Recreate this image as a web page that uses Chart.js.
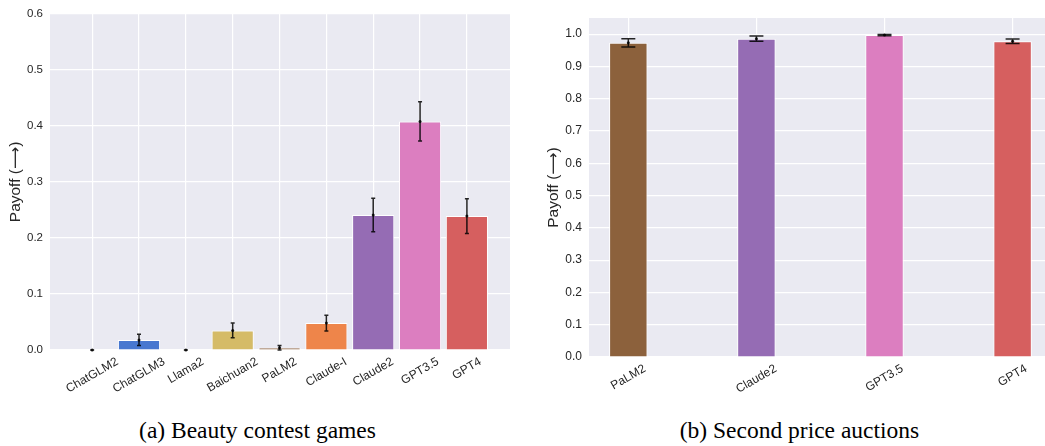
<!DOCTYPE html>
<html>
<head>
<meta charset="utf-8">
<script src="https://cdn.jsdelivr.net/npm/chart.js@4.4.0/dist/chart.umd.min.js"></script>
<style>
  body { margin: 0; width: 1045px; height: 446px; background: #fff; overflow: hidden; position: relative; }
  .box { position: absolute; top: 0; height: 400px; }
  .cap { position: absolute; top: 418px; font-family: "Liberation Serif", "Times New Roman", serif; font-size: 23.5px; line-height: 24px; color: #000; text-align: center; }
</style>
</head>
<body>
<div class="box" style="left:0;width:515px"><canvas id="beauty"></canvas></div>
<div class="box" style="left:530px;width:515px"><canvas id="auction"></canvas></div>
<div class="cap" style="left:0;width:515px">(a) Beauty contest games</div>
<div class="cap" style="left:542px;width:515px">(b) Second price auctions</div>
<script>
"use strict";

const beautyModels = ["ChatGLM2", "ChatGLM3", "Llama2", "Baichuan2", "PaLM2", "Claude-I", "Claude2", "GPT3.5", "GPT4"];
const beautyPayoff = [0, 0.018, 0, 0.035, 0.004, 0.048, 0.241, 0.408, 0.239];
const beautyErr = [0, 0.01, 0, 0.013, 0.004, 0.014, 0.03, 0.035, 0.031];
const beautyColors = ["#82c6e2", "#4878d0", "#6acc64", "#d5bb67", "#8c613c", "#ee854a", "#956cb4", "#dc7ec0", "#d65f5f"];
const beautyTicks = [0, 0.1, 0.2, 0.3, 0.4, 0.5, 0.6];

const auctionModels = ["PaLM2", "Claude2", "GPT3.5", "GPT4"];
const auctionPayoff = [0.973, 0.986, 0.997, 0.978];
const auctionErr = [0.013, 0.008, 0.002, 0.007];
const auctionColors = ["#8c613c", "#956cb4", "#dc7ec0", "#d65f5f"];
const auctionTicks = [0, 0.1, 0.2, 0.3, 0.4, 0.5, 0.6, 0.7, 0.8, 0.9, 1.0];

const SANS = "'Liberation Sans', Arial, 'DejaVu Sans', sans-serif";
const INK = "#262626";

// grey seaborn-ish panel behind the grid
const panelBg = {
  id: "panelBg",
  beforeDraw(chart) {
    const a = chart.chartArea;
    const ctx = chart.ctx;
    ctx.save();
    ctx.fillStyle = "#eaeaf2";
    ctx.fillRect(a.left, a.top, a.right - a.left, a.bottom - a.top);
    ctx.restore();
  },
};

const errorBars = {
  id: "errorBars",
  afterDatasetsDraw(chart, args, opts) {
    const ctx = chart.ctx;
    const ys = chart.scales.y;
    const bars = chart.getDatasetMeta(0).data;
    const vals = chart.data.datasets[0].data;
    ctx.save();
    ctx.strokeStyle = opts.color;
    ctx.fillStyle = opts.color;
    ctx.lineWidth = opts.width;
    bars.forEach((bar, i) => {
      const v = vals[i].y;
      const e = opts.errors[i];
      const top = ys.getPixelForValue(v + e);
      const bot = ys.getPixelForValue(v - e);
      ctx.beginPath();
      ctx.moveTo(bar.x, top);
      ctx.lineTo(bar.x, bot);
      ctx.moveTo(bar.x - opts.cap, top);
      ctx.lineTo(bar.x + opts.cap, top);
      ctx.moveTo(bar.x - opts.cap, bot);
      ctx.lineTo(bar.x + opts.cap, bot);
      ctx.stroke();
      ctx.beginPath();
      ctx.arc(bar.x, ys.getPixelForValue(v), opts.dot, 0, Math.PI * 2);
      ctx.fill();
    });
    ctx.restore();
  },
};

// chart.js right-aligns rotated ticks, matplotlib centres them, so draw them here
const slantedLabels = {
  id: "slantedLabels",
  afterDraw(chart, args, opts) {
    const ctx = chart.ctx;
    const xs = chart.scales.x;
    const base = chart.chartArea.bottom;
    const ang = Math.PI / 6;
    ctx.save();
    ctx.font = opts.size + "px " + SANS;
    ctx.fillStyle = INK;
    ctx.textAlign = "center";
    ctx.textBaseline = "middle";
    opts.labels.forEach((lab, i) => {
      const w = ctx.measureText(lab).width;
      const boxH = w * Math.sin(ang) + opts.size * 0.75 * Math.cos(ang);
      ctx.save();
      ctx.translate(xs.getPixelForValue(i), base + opts.gap + boxH / 2);
      ctx.rotate(-ang);
      ctx.fillText(lab, 0, 0);
      ctx.restore();
    });
    ctx.restore();
  },
};

function barPanel(id, p) {
  const ctx = document.getElementById(id).getContext("2d");
  return new Chart(ctx, {
    type: "bar",
    data: {
      datasets: [
        {
          data: p.values.map((v, i) => ({ x: i, y: v })),
          backgroundColor: p.colors,
          borderColor: "#ffffff",
          borderWidth: 1,
          barPercentage: p.barPct,
          categoryPercentage: 1,
        },
      ],
    },
    plugins: [panelBg, errorBars, slantedLabels],
    options: {
      responsive: true,
      maintainAspectRatio: false,
      animation: false,
      devicePixelRatio: 1,
      layout: { padding: p.padding },
      plugins: {
        legend: { display: false },
        tooltip: { enabled: false },
        errorBars: { errors: p.errors, cap: p.cap, width: 1.5, dot: 1.5, color: "rgba(0,0,0,0.85)" },
        slantedLabels: { labels: p.labels, size: 12, gap: 7 },
      },
      scales: {
        x: {
          type: "linear",
          min: p.xMin,
          max: p.xMax,
          offset: false,
          afterBuildTicks: (s) => {
            s.ticks = p.labels.map((m, i) => ({ value: i }));
          },
          afterFit: (s) => {
            s.height = p.xHeight;
          },
          border: { display: false },
          grid: { color: "#ffffff", lineWidth: 1.2, drawTicks: false, offset: false },
          ticks: { display: false },
        },
        y: {
          min: 0,
          max: p.yMax,
          afterBuildTicks: (s) => {
            s.ticks = p.ticks.map((v) => ({ value: v }));
          },
          afterFit: (s) => {
            s.width = p.yWidth;
          },
          border: { display: false },
          grid: { color: "#ffffff", lineWidth: 1.2, drawTicks: false },
          ticks: {
            padding: 7,
            color: INK,
            font: { family: SANS, size: p.tickSize },
            callback: (v) => Number(v).toFixed(1),
          },
          title: {
            display: true,
            text: "Payoff (\u27f6)",
            color: INK,
            font: { family: SANS, size: 15.5 },
            padding: { top: 4, bottom: 4 },
          },
        },
      },
    },
  });
}

barPanel("beauty", {
  labels: beautyModels,
  values: beautyPayoff,
  errors: beautyErr,
  colors: beautyColors,
  ticks: beautyTicks,
  yMax: 0.6,
  xMin: -0.9,
  xMax: 8.92,
  barPct: 0.9,
  cap: 2,
  tickSize: 11.5,
  yWidth: 48,
  xHeight: 50,
  padding: { left: 2, right: 5, top: 11, bottom: 0 },
});

barPanel("auction", {
  labels: auctionModels,
  values: auctionPayoff,
  errors: auctionErr,
  colors: auctionColors,
  ticks: auctionTicks,
  yMax: 1.05,
  xMin: -0.307,
  xMax: 3.253,
  barPct: 0.3,
  cap: 7,
  tickSize: 12,
  yWidth: 49,
  xHeight: 43,
  padding: { left: 10, right: 0, top: 18, bottom: 0 },
});
</script>
</body>
</html>
